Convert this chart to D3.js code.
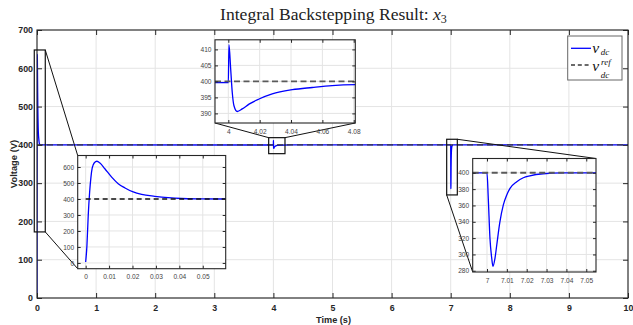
<!DOCTYPE html>
<html>
<head>
<meta charset="utf-8">
<script src="https://cdn.jsdelivr.net/npm/d3@7"></script>
<style>
  body { margin: 0; background: #fff; }
  svg { display: block; }
</style>
</head>
<body>
<svg id="chart" width="633" height="325"></svg>
<script>
// DC-link voltage v_dc under integral backstepping control (time in s, voltage in V)
const startupTime = [0, 0.00055, 0.0011, 0.0017, 0.00226, 0.0028, 0.0037, 0.0048, 0.0061, 0.0082, 0.0111, 0.0139, 0.0168, 0.0203, 0.0239, 0.0295, 0.0352, 0.0409, 0.0494, 0.06, 0.1];
const startupVolt = [6, 111, 298, 444, 537, 594, 627, 636, 625, 589, 537, 496, 469, 444, 429, 417, 408, 403, 401, 400, 399.7];

const loadStepTime = [3.99, 4.0, 4.0004, 4.0015, 4.0025, 4.0036, 4.0057, 4.0089, 4.0132, 4.0196, 4.028, 4.0408, 4.0535, 4.0662, 4.081, 4.3, 4.8];
const loadStepVolt = [399.6, 399.6, 411.5, 403.9, 396.6, 392.4, 390.6, 391.4, 392.9, 394.5, 396.1, 397.4, 398.1, 398.7, 399.0, 399.8, 400];

const dropTime = [6.99, 7.0, 7.00065, 7.0015, 7.0024, 7.003, 7.004, 7.0049, 7.0065, 7.0082, 7.0099, 7.0116, 7.015, 7.0183, 7.0216, 7.0283, 7.038, 7.06, 10];
const dropVolt = [400, 400, 368.6, 319.5, 295, 285.5, 295, 311.3, 339.9, 360.4, 372.6, 380.9, 389, 393.9, 396.3, 398.8, 399.8, 400, 400];

// Reference voltage v_dc^ref
const refVolt = 400;

// Main axes ticks
const timeTicks = [0, 1, 2, 3, 4, 5, 6, 7, 8, 9, 10];
const voltTicks = [0, 100, 200, 300, 400, 500, 600, 700];

// Zoomed windows: [tMin, tMax] and [vMin, vMax] of the marked boxes and the inset axes
const startupBoxTime = [-0.046, 0.14];
const startupBoxVolt = [172.6, 647.8];
const startupInsetTime = [-0.0034, 0.0598];
const startupInsetVolt = [-36, 672];
const startupTimeTicks = [0, 0.01, 0.02, 0.03, 0.04, 0.05];
const startupVoltTicks = [0, 100, 200, 300, 400, 500, 600];

const loadBoxTime = [3.92, 4.196];
const loadBoxVolt = [377, 418.8];
const loadInsetTime = [3.9915, 4.081];
const loadInsetVolt = [387, 413];
const loadTimeTicks = [4, 4.02, 4.04, 4.06, 4.08];
const loadVoltTicks = [390, 395, 400, 405, 410];

const dropBoxTime = [6.932, 7.112];
const dropBoxVolt = [269.2, 414.6];
const dropInsetTime = [6.9928, 7.0549];
const dropInsetVolt = [278.5, 417.5];
const dropTimeTicks = [7, 7.01, 7.02, 7.03, 7.04, 7.05];
const dropVoltTicks = [280, 300, 320, 340, 360, 380, 400];

// ---------------------------------------------------------------
const series = [];
[[startupTime, startupVolt], [loadStepTime, loadStepVolt], [dropTime, dropVolt]].forEach(([ts, vs]) => {
  ts.forEach((t, i) => series.push({ t, v: vs[i] }));
});

const svg = d3.select("#chart");
const W = 633, H = 325;
const plot = { left: 37, right: 628, top: 30, bottom: 298 };
const axisColor = "#262626";
const gridColor = "#e4e4e4";

const x = d3.scaleLinear().domain([0, 10]).range([plot.left, plot.right]);
const y = d3.scaleLinear().domain([0, 700]).range([plot.bottom, plot.top]);

svg.append("rect").attr("width", W).attr("height", H).attr("fill", "#fff");
const defs = svg.append("defs");

// grid
const grid = svg.append("g").attr("stroke", gridColor).attr("stroke-width", 1);
timeTicks.forEach(t => grid.append("line")
  .attr("x1", x(t)).attr("x2", x(t)).attr("y1", plot.top).attr("y2", plot.bottom));
voltTicks.forEach(v => grid.append("line")
  .attr("x1", plot.left).attr("x2", plot.right).attr("y1", y(v)).attr("y2", y(v)));

defs.append("clipPath").attr("id", "mainClip")
  .append("rect").attr("x", plot.left).attr("y", plot.top)
  .attr("width", plot.right - plot.left).attr("height", plot.bottom - plot.top);

const mainLine = d3.line().x(d => x(d.t)).y(d => y(d.v)).curve(d3.curveMonotoneX);
svg.append("path").datum(series)
  .attr("clip-path", "url(#mainClip)")
  .attr("d", mainLine).attr("fill", "none")
  .attr("stroke", "#0000ff").attr("stroke-width", 1.3);

svg.append("line")
  .attr("x1", x(0)).attr("x2", x(10)).attr("y1", y(refVolt)).attr("y2", y(refVolt))
  .attr("stroke", "#3a3a3a").attr("stroke-width", 1.3).attr("stroke-dasharray", "6,4");

// main axes (ticks inside on all sides)
function styleAxis(g, bold, size, color) {
  g.select(".domain").remove();
  g.selectAll(".tick line").attr("stroke", axisColor);
  g.selectAll(".tick text")
    .attr("fill", color)
    .style("font-family", "'Liberation Sans', Arial, sans-serif")
    .style("font-size", size + "px")
    .style("font-weight", bold ? "bold" : "normal");
}
const fmt = d => String(+d.toFixed(4));

svg.append("g").attr("transform", `translate(0,${plot.bottom})`)
  .call(d3.axisBottom(x).tickValues(timeTicks).tickSize(-5).tickPadding(7).tickFormat(fmt))
  .call(g => styleAxis(g, true, 8.8, axisColor));
svg.append("g").attr("transform", `translate(0,${plot.top})`)
  .call(d3.axisTop(x).tickValues(timeTicks).tickSize(-5).tickFormat(""))
  .call(g => styleAxis(g, true, 8.8, axisColor));
svg.append("g").attr("transform", `translate(${plot.left},0)`)
  .call(d3.axisLeft(y).tickValues(voltTicks).tickSize(-5).tickPadding(4).tickFormat(fmt))
  .call(g => styleAxis(g, true, 8.8, axisColor));
svg.append("g").attr("transform", `translate(${plot.right},0)`)
  .call(d3.axisRight(y).tickValues(voltTicks).tickSize(-5).tickFormat(""))
  .call(g => styleAxis(g, true, 8.8, axisColor));

svg.append("rect")
  .attr("x", plot.left).attr("y", plot.top)
  .attr("width", plot.right - plot.left).attr("height", plot.bottom - plot.top)
  .attr("fill", "none").attr("stroke", axisColor).attr("stroke-width", 1.1);

// axis labels
svg.append("text")
  .attr("x", 333.5).attr("y", 322.5)
  .attr("text-anchor", "middle")
  .style("font-family", "'Liberation Sans', Arial, sans-serif")
  .style("font-size", "9.2px").style("font-weight", "bold").attr("fill", axisColor)
  .text("Time (s)");
svg.append("text")
  .attr("transform", `translate(16.5,${(plot.top + plot.bottom) / 2}) rotate(-90)`)
  .attr("text-anchor", "middle")
  .style("font-family", "'Liberation Sans', Arial, sans-serif")
  .style("font-size", "9.4px").style("font-weight", "bold").attr("fill", axisColor)
  .text("Voltage (V)");

// title, sized to span its measured width
const title = svg.append("text")
  .attr("x", 333.5).attr("y", 19.5).attr("text-anchor", "middle")
  .style("font-family", "'Liberation Serif', 'DejaVu Serif', serif")
  .style("font-size", "16px").attr("fill", "#222");
title.append("tspan").text("Integral Backstepping Result: ");
title.append("tspan").style("font-style", "italic").text("x");
const sub3 = title.append("tspan").attr("dy", 3).style("font-size", "11px").text("3");
const titleWidth = title.node().getComputedTextLength();
if (titleWidth > 0) {
  const k = 227 / titleWidth;
  title.style("font-size", (16 * k) + "px");
  sub3.style("font-size", (11 * k) + "px");
}

// zoom boxes on the main axes
function boxPx(tr, vr) {
  return { x0: x(tr[0]), x1: x(tr[1]), y0: y(vr[1]), y1: y(vr[0]) };
}
const insets = [
  { id: "startup", box: boxPx(startupBoxTime, startupBoxVolt),
    px: { x: 77.7, y: 155.5, w: 148, h: 113.2 },
    tDom: startupInsetTime, vDom: startupInsetVolt, tTicks: startupTimeTicks, vTicks: startupVoltTicks,
    ref: { color: "#111", width: 1.3, dash: "5,3.5" },
    links: [["x1", "y0", "left", "top"], ["x1", "y1", "left", "bottom"]] },
  { id: "load", box: boxPx(loadBoxTime, loadBoxVolt),
    px: { x: 215, y: 39.8, w: 140.3, h: 83.2 },
    tDom: loadInsetTime, vDom: loadInsetVolt, tTicks: loadTimeTicks, vTicks: loadVoltTicks,
    ref: { color: "#5a5a5a", width: 1.9, dash: "6,3.5" },
    links: [["x0", "y0", "left", "bottom"], ["x1", "y0", "right", "bottom"]] },
  { id: "drop", box: boxPx(dropBoxTime, dropBoxVolt),
    px: { x: 472.7, y: 158.5, w: 123.3, h: 113.5 },
    tDom: dropInsetTime, vDom: dropInsetVolt, tTicks: dropTimeTicks, vTicks: dropVoltTicks,
    ref: { color: "#5a5a5a", width: 1.9, dash: "6,3.5" },
    links: [["x1", "y0", "right", "top"], ["x0", "y1", "left", "bottom"]] }
];

insets.forEach(s => {
  svg.append("rect")
    .attr("x", s.box.x0).attr("y", s.box.y0)
    .attr("width", s.box.x1 - s.box.x0).attr("height", s.box.y1 - s.box.y0)
    .attr("fill", "none").attr("stroke", "#111").attr("stroke-width", 1.2);
  s.links.forEach(([bx, by, ix, iy]) => {
    const tx = ix === "left" ? s.px.x : s.px.x + s.px.w;
    const ty = iy === "top" ? s.px.y : s.px.y + s.px.h;
    svg.append("line")
      .attr("x1", s.box[bx]).attr("y1", s.box[by]).attr("x2", tx).attr("y2", ty)
      .attr("stroke", "#111").attr("stroke-width", 1);
  });
});

// inset axes
insets.forEach(s => {
  const g = svg.append("g");
  const { x: ox, y: oy, w, h } = s.px;
  const sx = d3.scaleLinear().domain(s.tDom).range([ox, ox + w]);
  const sy = d3.scaleLinear().domain(s.vDom).range([oy + h, oy]);

  g.append("rect").attr("x", ox).attr("y", oy).attr("width", w).attr("height", h).attr("fill", "#fff");
  const gg = g.append("g").attr("stroke", gridColor).attr("stroke-width", 1);
  s.tTicks.forEach(t => gg.append("line").attr("x1", sx(t)).attr("x2", sx(t)).attr("y1", oy).attr("y2", oy + h));
  s.vTicks.forEach(v => gg.append("line").attr("x1", ox).attr("x2", ox + w).attr("y1", sy(v)).attr("y2", sy(v)));

  defs.append("clipPath").attr("id", "clip-" + s.id)
    .append("rect").attr("x", ox).attr("y", oy).attr("width", w).attr("height", h);

  const line = d3.line().x(d => sx(d.t)).y(d => sy(d.v)).curve(d3.curveMonotoneX);
  g.append("path").datum(series)
    .attr("clip-path", `url(#clip-${s.id})`)
    .attr("d", line).attr("fill", "none").attr("stroke", "#0000ff").attr("stroke-width", 1.3);

  const refStart = s.id === "startup" ? 0 : s.tDom[0];
  g.append("line")
    .attr("x1", sx(refStart)).attr("x2", sx(s.tDom[1]))
    .attr("y1", sy(refVolt)).attr("y2", sy(refVolt))
    .attr("stroke", s.ref.color).attr("stroke-width", s.ref.width).attr("stroke-dasharray", s.ref.dash);

  const lblColor = "#444";
  g.append("g").attr("transform", `translate(0,${oy + h})`)
    .call(d3.axisBottom(sx).tickValues(s.tTicks).tickSize(-3).tickPadding(6).tickFormat(fmt))
    .call(a => styleAxis(a, false, 6.6, lblColor));
  g.append("g").attr("transform", `translate(0,${oy})`)
    .call(d3.axisTop(sx).tickValues(s.tTicks).tickSize(-3).tickFormat(""))
    .call(a => styleAxis(a, false, 6.6, lblColor));
  g.append("g").attr("transform", `translate(${ox},0)`)
    .call(d3.axisLeft(sy).tickValues(s.vTicks).tickSize(-3).tickPadding(3.5).tickFormat(fmt))
    .call(a => styleAxis(a, false, 6.6, lblColor));
  g.append("g").attr("transform", `translate(${ox + w},0)`)
    .call(d3.axisRight(sy).tickValues(s.vTicks).tickSize(-3).tickFormat(""))
    .call(a => styleAxis(a, false, 6.6, lblColor));

  g.append("rect").attr("x", ox).attr("y", oy).attr("width", w).attr("height", h)
    .attr("fill", "none").attr("stroke", axisColor).attr("stroke-width", 1.1);
});

// legend
const lg = svg.append("g");
lg.append("rect").attr("x", 567.7).attr("y", 36).attr("width", 54.3).attr("height", 44)
  .attr("fill", "#fff").attr("stroke", "#666").attr("stroke-width", 1);
lg.append("line").attr("x1", 571).attr("x2", 591).attr("y1", 48.3).attr("y2", 48.3)
  .attr("stroke", "#0000ff").attr("stroke-width", 1.3);
lg.append("line").attr("x1", 571).attr("x2", 591).attr("y1", 65).attr("y2", 65)
  .attr("stroke", "#3a3a3a").attr("stroke-width", 1.5).attr("stroke-dasharray", "4,2.8");
const serif = "'Liberation Serif', 'DejaVu Serif', serif";
function lgText(tx, ty, size, str) {
  lg.append("text").attr("x", tx).attr("y", ty)
    .style("font-family", serif).style("font-style", "italic")
    .style("font-size", size + "px").attr("fill", "#111").text(str);
}
lgText(592.3, 52.5, 15.5, "v");
lgText(600.8, 54.5, 9, "dc");
lgText(592.3, 71, 15.5, "v");
lgText(601, 64.8, 9, "ref");
lgText(600.8, 78, 9, "dc");
</script>
</body>
</html>
